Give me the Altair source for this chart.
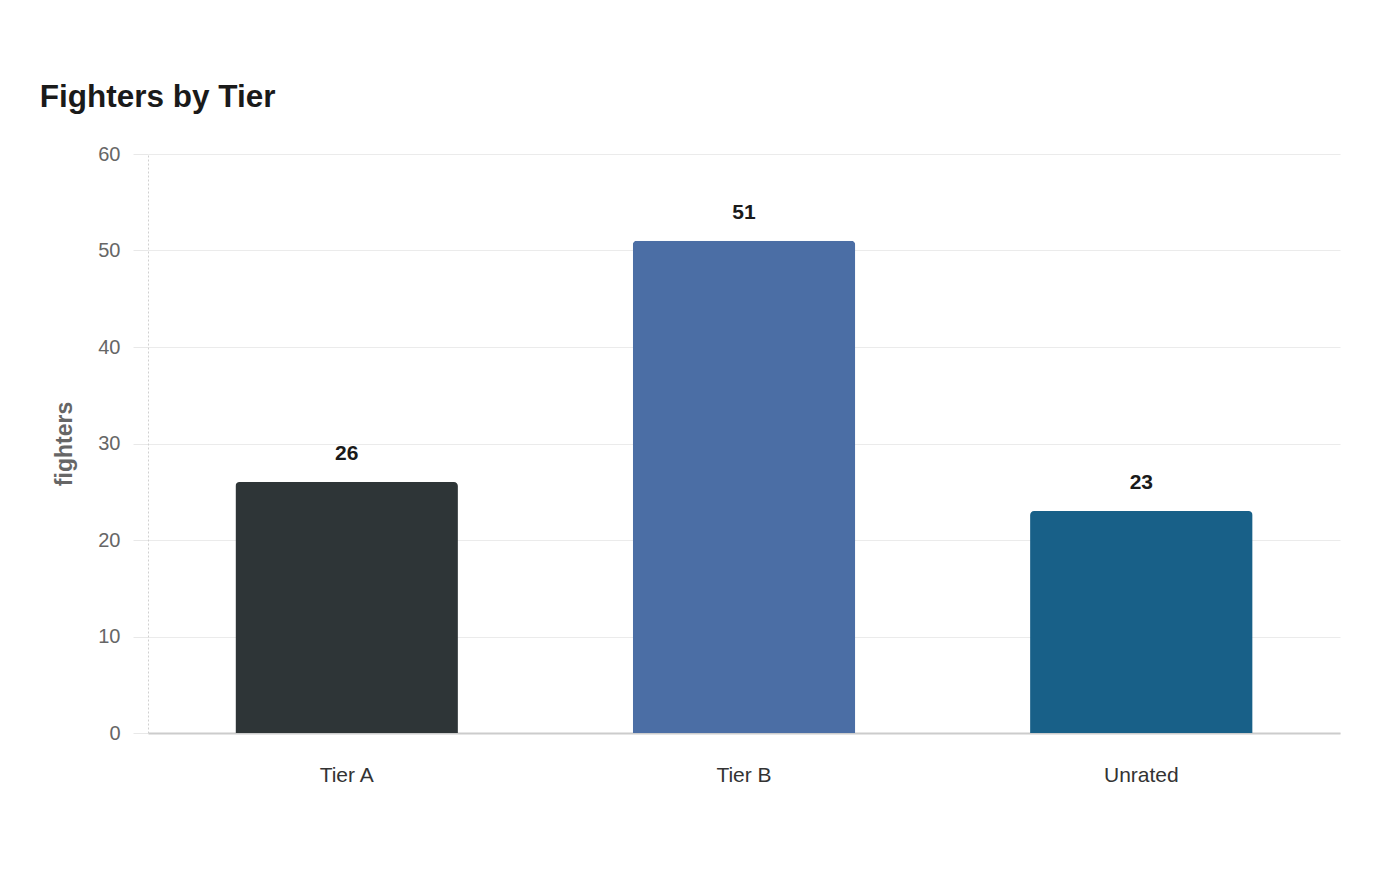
import altair as alt
import pandas as pd

tiers = ["Tier A", "Tier B", "Unrated"]
fighters = [26, 51, 23]
colors = ["#2e3537", "#4b6ea5", "#186088"]

df = pd.DataFrame({"tier": tiers, "fighters": fighters})

base = alt.Chart(df).encode(
    x=alt.X("tier:N", sort=tiers, title=None,
            scale=alt.Scale(paddingInner=0.44, paddingOuter=0.22),
            axis=alt.Axis(labelAngle=0, labelFontSize=21, labelColor="#333333",
                          labelFont="Liberation Sans", ticks=False, labelPadding=31,
                          domainColor="#cccccc", domainWidth=2, grid=False)),
    y=alt.Y("fighters:Q", title="fighters",
            scale=alt.Scale(domain=[0, 60]),
            axis=alt.Axis(values=[0, 10, 20, 30, 40, 50, 60], labelFontSize=20,
                          labelColor="#666666", labelFont="Liberation Sans",
                          tickSize=15, tickColor="#e8e8e8", labelPadding=13,
                          gridColor="#ebebeb", domainColor="#d0d0d0",
                          domainDash=[2, 2], titleFontSize=23, titleFont="Liberation Sans",
                          titleFontWeight="bold", titleColor="#666666", titlePadding=21)),
)

bars = base.mark_bar(cornerRadiusTopLeft=4, cornerRadiusTopRight=4).encode(
    color=alt.Color("tier:N", scale=alt.Scale(domain=tiers, range=colors), legend=None)
)

labels = base.mark_text(baseline="bottom", dy=-18, fontSize=21, fontWeight="bold",
                        font="Liberation Sans", color="#1a1a1a").encode(
    text="fighters:Q"
)

chart = (bars + labels).properties(
    width=1192, height=579,
    background="white",
    title=alt.TitleParams("Fighters by Tier", anchor="start", fontSize=31.5,
                          font="Liberation Sans", fontWeight="bold", color="#1a1a1a",
                          dx=-14, offset=31),
    autosize=alt.AutoSizeParams(type="none"),
    padding={"left": 148, "top": 154, "right": 60, "bottom": 147},
).configure_view(strokeWidth=0, stroke=None)

chart.save("out.html", embed_options={"renderer": "svg", "actions": False})
